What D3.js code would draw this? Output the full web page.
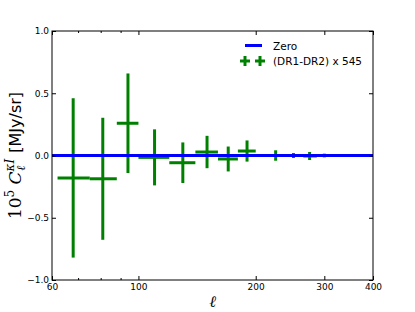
<!DOCTYPE html>
<html>
<head>
<meta charset="utf-8">
<script src="https://cdn.jsdelivr.net/npm/d3@7"></script>
<style>
  body { margin: 0; background: #fff; }
</style>
</head>
<body>
<div id="chart"></div>
<script>
// multipole bins (centre, low edge, high edge)
const ell    = [68, 81, 94, 110, 130, 150, 170, 190, 225, 250, 275, 300, 350];
const ellLo  = [62, 75, 88, 100, 120, 140, 160, 180, 212, 242, 265, 292, 335];
const ellHi  = [75, 88, 100, 120, 140, 160, 180, 200, 238, 258, 287, 308, 366];
// 10^5 C_l^{kappa I}, (DR1-DR2) x 545
const cl     = [-0.18, -0.187, 0.259, -0.015, -0.058, 0.028, -0.028, 0.036, 0.0, 0.0, -0.004, 0.0, 0.0];
const clErr  = [0.64, 0.49, 0.40, 0.225, 0.163, 0.13, 0.10, 0.085, 0.042, 0.02, 0.032, 0.015, 0.01];

const xTicks = [60, 100, 200, 300, 400];
const xMinor = [70, 80, 90];
const yTicks = [-1.0, -0.5, 0.0, 0.5, 1.0];

const WIDTH = 415, HEIGHT = 312;
const L = 52, R = 373, T = 31, B = 280;
const GREEN = "#008000", BLUE = "#0000ff";

const svg = d3.select("#chart")
              .append("svg")
                .attr("width", WIDTH)
                .attr("height", HEIGHT);

const x = d3.scaleLog().domain([60, 400]).range([L, R]);
const y = d3.scaleLinear().domain([-1, 1]).range([B, T]);

// error bars
const pts = ell.map((e, i) => ({ e, lo: ellLo[i], hi: ellHi[i], v: cl[i], err: clErr[i] }));
const g = svg.append("g");
g.selectAll("line.v")
  .data(pts)
  .join("line")
    .attr("x1", d => x(d.e)).attr("x2", d => x(d.e))
    .attr("y1", d => y(d.v - d.err)).attr("y2", d => y(d.v + d.err))
    .attr("stroke", GREEN).attr("stroke-width", 3);
g.selectAll("line.h")
  .data(pts)
  .join("line")
    .attr("x1", d => x(d.lo)).attr("x2", d => x(d.hi))
    .attr("y1", d => y(d.v)).attr("y2", d => y(d.v))
    .attr("stroke", GREEN).attr("stroke-width", 3);

// zero line
svg.append("line")
    .attr("x1", L).attr("x2", R)
    .attr("y1", y(0)).attr("y2", y(0))
    .attr("stroke", BLUE).attr("stroke-width", 3);

// axes
const fmtY = d => d3.format(".1f")(d).replace("-", "\u2212");
const tickFont = g => g.selectAll("text")
                        .attr("font-family", "DejaVu Sans")
                        .attr("font-size", 9)
                        .attr("fill", "#000");
const clean = g => { g.select(".domain").remove(); g.selectAll("line").attr("stroke", "#000"); };

svg.append("g")
    .attr("transform", `translate(0,${B})`)
    .call(d3.axisBottom(x).tickValues(xTicks).tickFormat(d3.format("d"))
            .tickSizeInner(-4).tickSizeOuter(0).tickPadding(4))
    .call(clean).call(tickFont);
svg.append("g")
    .attr("transform", `translate(0,${B})`)
    .call(d3.axisBottom(x).tickValues(xMinor).tickFormat("").tickSizeInner(-2).tickSizeOuter(0))
    .call(clean);
svg.append("g")
    .attr("transform", `translate(0,${T})`)
    .call(d3.axisTop(x).tickValues(xTicks).tickFormat("").tickSizeInner(-4).tickSizeOuter(0))
    .call(clean);
svg.append("g")
    .attr("transform", `translate(0,${T})`)
    .call(d3.axisTop(x).tickValues(xMinor).tickFormat("").tickSizeInner(-2).tickSizeOuter(0))
    .call(clean);
svg.append("g")
    .attr("transform", `translate(${L},0)`)
    .call(d3.axisLeft(y).tickValues(yTicks).tickFormat(fmtY)
            .tickSizeInner(-4).tickSizeOuter(0).tickPadding(3))
    .call(clean).call(tickFont);
svg.append("g")
    .attr("transform", `translate(${R},0)`)
    .call(d3.axisRight(y).tickValues(yTicks).tickFormat("").tickSizeInner(-4).tickSizeOuter(0))
    .call(clean);

// frame
svg.append("rect")
    .attr("x", L).attr("y", T)
    .attr("width", R - L).attr("height", B - T)
    .attr("fill", "none").attr("stroke", "#000").attr("stroke-width", 1);

// x label
svg.append("text")
    .attr("x", (L + R) / 2).attr("y", 307)
    .attr("text-anchor", "middle")
    .attr("font-family", "DejaVu Serif").attr("font-style", "italic")
    .attr("font-size", 16)
    .text("\u2113");

// y label
const yl = svg.append("text")
    .attr("transform", `translate(21,${(T + B) / 2}) rotate(-90)`)
    .attr("text-anchor", "middle")
    .attr("font-family", "DejaVu Serif")
    .attr("font-size", 17);
yl.append("tspan").text("10");
yl.append("tspan").attr("font-size", 12).attr("dy", -7).text("5");
yl.append("tspan").attr("dy", 7).attr("font-style", "italic").text(" C");
yl.append("tspan").attr("font-size", 12).attr("font-style", "italic").attr("dy", -7).text("\u03baI");
yl.append("tspan").attr("font-size", 12).attr("font-style", "italic").attr("dx", -12).attr("dy", 11).text("\u2113");
yl.append("tspan").attr("dx", 8).attr("dy", -4).attr("font-family", "DejaVu Sans").attr("font-size", 16).text(" [MJy/sr]");

// legend
const lg = svg.append("g")
    .attr("font-family", "DejaVu Sans").attr("font-size", 10.5);
lg.append("line")
    .attr("x1", 245).attr("x2", 262).attr("y1", 45.5).attr("y2", 45.5)
    .attr("stroke", BLUE).attr("stroke-width", 3);
lg.append("text").attr("x", 273).attr("y", 49.5).text("Zero");
[245, 260].forEach(cx => {
    lg.append("line").attr("x1", cx - 5).attr("x2", cx + 5).attr("y1", 61).attr("y2", 61)
      .attr("stroke", GREEN).attr("stroke-width", 3);
    lg.append("line").attr("x1", cx).attr("x2", cx).attr("y1", 56).attr("y2", 66)
      .attr("stroke", GREEN).attr("stroke-width", 3);
});
lg.append("text").attr("x", 273).attr("y", 65).text("(DR1-DR2) x 545");
</script>
</body>
</html>
